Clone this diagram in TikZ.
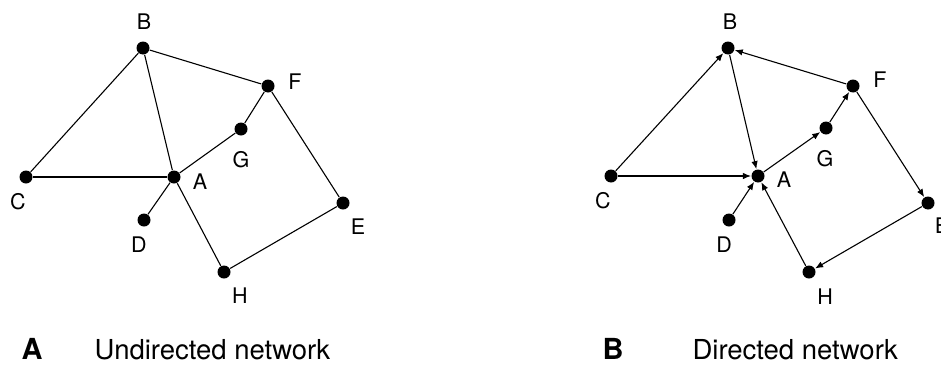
\documentclass[tikz,border=0pt]{standalone}
\usepackage{fontspec}
\setmainfont{TeX Gyre Heros}
\usepackage{tikz}
\usetikzlibrary{arrows.meta}

\begin{document}
\begin{tikzpicture}[x=1pt,y=-1pt,
    dot/.style={circle, fill=black, inner sep=0pt, minimum size=13pt},
    lbl/.style={inner sep=0pt, font=\fontsize{21.5}{24}\selectfont},
    captxt/.style={inner sep=0pt, anchor=base west, font=\fontsize{27.5}{30}\selectfont},
    capbold/.style={captxt, font=\fontsize{29}{32}\selectfont\bfseries},
    line width=1.1pt, >={Latex[length=8pt,width=6.5pt]}]
    \useasboundingbox (0,0) rectangle (941,367);

    % undirected network
    \node[dot] (B) at (143,48) {};
    \node[dot] (F) at (268,86) {};
    \node[dot] (G) at (241,129) {};
    \node[dot] (C) at (26,177) {};
    \node[dot] (A) at (174,177) {};
    \node[dot] (D) at (144,220) {};
    \node[dot] (E) at (343,203) {};
    \node[dot] (H) at (224,272) {};

        \node[lbl] (labB) at (144,22) {B};
        \node[lbl] (labF) at (295,82) {F};
        \node[lbl] (labG) at (241,160) {G};
        \node[lbl] (labC) at (18,202) {C};
        \node[lbl] (labA) at (200,182) {A};
        \node[lbl] (labD) at (139,245) {D};
        \node[lbl] (labE) at (358,227) {E};
        \node[lbl] (labH) at (240,296) {H};

        \draw (C) -- (B);
        \draw (B) -- (F);
        \draw (B) -- (A);
        \draw (C) -- (A);
        \draw (A) -- (G);
        \draw (G) -- (F);
        \draw (F) -- (E);
        \draw (E) -- (H);
        \draw (H) -- (A);
        \draw (D) -- (A);

    % directed network
    \node[dot] (dB) at (728,48) {};
    \node[dot] (dF) at (853,86) {};
    \node[dot] (dG) at (826,128) {};
    \node[dot] (dC) at (611,176) {};
    \node[dot] (dA) at (758,176) {};
    \node[dot] (dD) at (729,220) {};
    \node[dot] (dE) at (928,203) {};
    \node[dot] (dH) at (809,272) {};

        \node[lbl] (labdB) at (730,22) {B};
        \node[lbl] (labdF) at (880,80) {F};
        \node[lbl] (labdG) at (825,159) {G};
        \node[lbl] (labdC) at (603,201) {C};
        \node[lbl] (labdA) at (784,180) {A};
        \node[lbl] (labdD) at (724,245) {D};
        \node[lbl] (labdE) at (942,226) {E};
        \node[lbl] (labdH) at (825,297) {H};

        \draw[->] (dC) -- (dB);
        \draw[->] (dF) -- (dB);
        \draw[->] (dB) -- (dA);
        \draw[->] (dC) -- (dA);
        \draw[->] (dA) -- (dG);
        \draw[->] (dG) -- (dF);
        \draw[->] (dF) -- (dE);
        \draw[->] (dE) -- (dH);
        \draw[->] (dH) -- (dA);
        \draw[->] (dD) -- (dA);

    % captions
    \node[capbold] (capA) at (21,359) {A};
    \node[captxt] (txtA) at (94,359) {Undirected network};
    \node[capbold] (capB) at (602,359) {B};
    \node[captxt] (txtB) at (692,359) {Directed network};
\end{tikzpicture}
\end{document}
